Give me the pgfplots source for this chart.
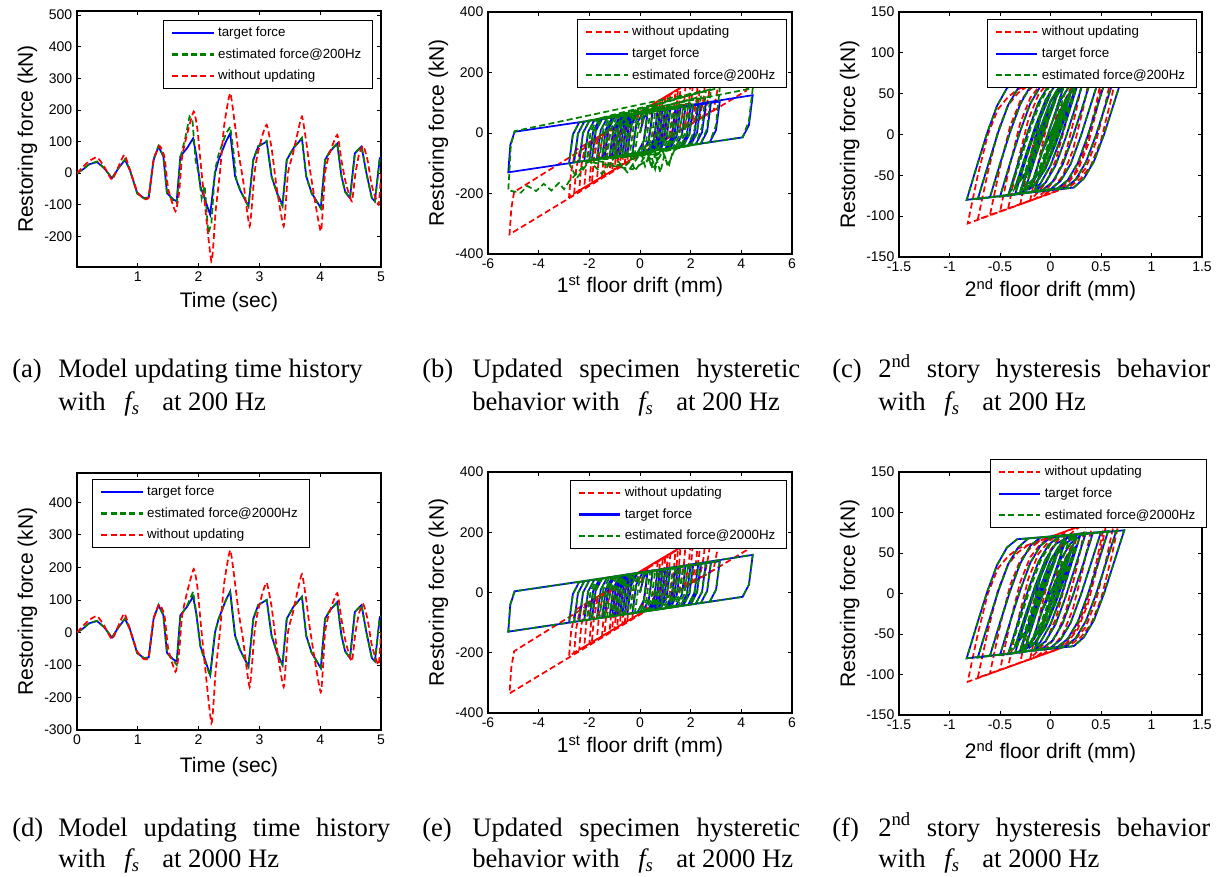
\documentclass[border=0pt]{standalone}
\usepackage{fontspec}
\setmainfont{Liberation Sans}
\newfontfamily\capfont{Liberation Serif}
\usepackage{pgfplots}
\usepackage{pgfplotstable}
\pgfplotsset{compat=1.18}

\definecolor{mblue}{RGB}{0,0,255}
\definecolor{mgreen}{RGB}{0,128,0}
\definecolor{mred}{RGB}{255,0,0}

% ---- time histories (kN vs s)
\pgfplotstableread{
t F
0.00 0
0.10 12
0.20 28
0.33 35
0.45 15
0.575 -16
0.68 15
0.79 42
0.87 10
0.99 -63
1.10 -79
1.18 -77
1.26 42
1.34 84
1.42 53
1.48 -63
1.59 -84
1.64 -89
1.70 53
1.81 79
1.91 110
1.96 60
2.03 -42
2.19 -131
2.27 0
2.33 42
2.45 100
2.52 126
2.60 -10
2.68 -53
2.82 -105
2.90 42
2.98 84
3.12 100
3.20 -10
3.29 -63
3.38 -100
3.45 42
3.56 79
3.70 110
3.77 -10
3.86 -63
4.01 -110
4.08 42
4.16 68
4.28 93
4.35 -10
4.41 -58
4.49 -79
4.57 63
4.68 84
4.76 0
4.85 -79
4.90 -89
4.98 47
5.00 50
}\thT

\pgfplotstableread{
t F
0.00 0
0.10 12
0.20 28
0.33 37
0.45 15
0.575 -16
0.68 15
0.79 44
0.87 10
0.99 -65
1.10 -80
1.18 -77
1.26 45
1.34 86
1.42 55
1.48 -63
1.59 -88
1.64 -95
1.70 50
1.78 110
1.85 179
1.90 165
1.95 40
2.00 0
2.05 -80
2.10 -40
2.16 -190
2.21 -160
2.27 10
2.33 60
2.45 125
2.52 147
2.58 60
2.62 -20
2.70 -60
2.82 -105
2.90 42
2.98 86
3.12 102
3.20 -10
3.29 -65
3.38 -105
3.45 42
3.56 80
3.70 112
3.77 -10
3.86 -65
4.01 -112
4.08 42
4.16 70
4.28 95
4.35 -10
4.41 -60
4.49 -80
4.57 63
4.68 86
4.76 0
4.85 -80
4.90 -90
4.98 47
5.00 50
}\thEa

\pgfplotstableread{
t F
0.00 0
0.10 12
0.20 28
0.33 36
0.45 15
0.575 -16
0.68 15
0.79 43
0.87 10
0.99 -64
1.10 -79
1.18 -77
1.26 43
1.34 84
1.42 53
1.48 -63
1.59 -88
1.64 -100
1.70 50
1.81 82
1.91 125
1.96 62
2.03 -45
2.19 -135
2.27 0
2.33 42
2.45 100
2.52 122
2.60 -10
2.68 -53
2.82 -105
2.90 42
2.98 84
3.12 100
3.20 -10
3.29 -63
3.38 -100
3.45 42
3.56 79
3.70 108
3.77 -10
3.86 -63
4.01 -108
4.08 42
4.16 68
4.28 92
4.35 -10
4.41 -58
4.49 -80
4.57 63
4.68 84
4.76 0
4.85 -80
4.90 -89
4.98 47
5.00 50
}\thEd

\pgfplotstableread{
t F
0.00 0
0.10 20
0.20 38
0.33 50
0.45 20
0.575 -21
0.68 20
0.78 58
0.87 10
0.99 -58
1.10 -82
1.18 -75
1.26 42
1.36 86
1.44 50
1.50 -50
1.62 -121
1.68 -60
1.73 53
1.82 130
1.92 195
1.98 140
2.05 0
2.21 -279
2.28 -120
2.35 0
2.42 150
2.52 253
2.60 150
2.66 60
2.73 -20
2.84 -168
2.92 0
2.97 60
3.05 120
3.12 153
3.20 80
3.28 -40
3.40 -168
3.47 0
3.55 60
3.62 120
3.70 179
3.77 100
3.84 0
4.01 -184
4.08 0
4.15 60
4.28 121
4.35 40
4.42 -30
4.52 -89
4.58 0
4.64 60
4.71 86
4.78 40
4.85 -40
4.96 -100
5.00 0
}\thR

% ---- 1st floor hysteresis (kN vs mm)
\pgfplotstableread{
x F
0 0
0.15 50
0.3 69
0.8 75
0.65 -20
0.4 -60
-0.6 -72.5
-0.45 22.5
-0.2 62.5
1.4 82.5
1.25 -12.5
1.0 -52.5
-1.1 -78.75
-0.95 16
-0.7 56
2.0 90
1.85 -5
1.6 -45
-1.7 -86
-1.55 9
-1.3 49
2.6 97.5
2.45 2.5
2.2 -37.5
-2.4 -95
-2.25 0
-2.0 40
3.15 104
3.0 9
2.75 -30.6
-2.8 -100
-2.65 -5
-2.4 35
4.45 125
4.3 26
4.05 -14.4
-5.2 -130
-5.12 -40
-4.95 4
2.3 93.75
2.15 -1
1.9 -41
-2.0 -90
-1.85 5
-1.6 45
1.8 87.5
1.65 -7.5
1.4 -47.5
-1.4 -82.5
-1.25 12.5
-1.0 52.5
2.8 100
2.65 5
2.4 -35
-2.6 -97.5
-2.45 -2.5
-2.2 37.5
1.1 78.75
0.95 -16
0.7 -56
-0.9 -76
-0.75 19
-0.5 59
0.5 71
0.35 -24
0.1 -64
-0.3 -69
-0.15 26
0.1 66
1.2 80
1.05 -15
0.8 -55
-1.2 -80
-1.05 15
-0.8 55
0.7 74
0.55 -21
0.3 -61
-0.5 -71
-0.35 24
-0.1 64
1.6 85
1.45 -10
1.2 -50
-0.8 -75
-0.65 20
-0.4 60
0.3 69
0.15 -26
-0.1 -66
-1.5 -84
-1.35 11
-1.1 51
0.9 76
0.75 -19
0.5 -59
0.0 -65
-1.9 -88.75
-1.75 6
-1.5 46
1.5 84
1.35 -11
1.1 -51
-2.2 -92.5
-2.05 3
-1.8 42.5
2.1 91
1.95 -4
1.7 -44
-1.0 -77.5
-0.85 17.5
-0.6 57.5
2.4 95
2.25 0
2.0 -40
-0.7 -74
-0.55 21
-0.3 61
1.0 77.5
0.85 -17.5
0.6 -57.5
0.2 -62.5
}\hbT

% extra small cycles around the centre (estimated force)
\pgfplotstableread{
x F
0.2 -62.5
-1.3 -81
-1.15 14
-0.9 54
0.6 72.5
0.45 -22.5
0.2 -62.5
-2.1 -91
-1.95 4
-1.7 44
1.3 81
1.15 -14
0.9 -54
-0.4 -70
-0.25 25
0.0 65
1.7 86
1.55 -9
1.3 -49
-1.6 -85
-1.45 10
-1.2 50
0.4 70
0.25 -25
0.0 -65
-1.0 -77.5
-0.85 17.5
-0.6 57.5
1.9 89
1.75 -6
1.5 -46
-0.2 -67.5
-0.05 27.5
0.2 67.5
0.9 76
}\hbX

\pgfplotstableread{
x F
0 0
0.15 50
0.3 69
0.8 76
0.65 -20
0.4 -60
0.2 -110
0.05 -68
-0.6 -72.5
-0.45 22.5
-0.2 62.5
1.4 88
1.25 -12.5
1.0 -52.5
0.6 -70
0.45 -115
0.3 -65
-0.2 -125
-0.4 -72
-1.1 -78.75
-0.95 16
-0.7 56
2.0 110
1.85 0
1.6 -45
1.3 -60
1.15 -105
0.9 -65
-1.7 -86
-1.55 9
-1.3 49
2.6 140
2.45 20
2.2 -37.5
1.0 -60
0.8 -130
0.6 -70
-2.4 -95
-2.25 0
-2.0 40
3.15 150
3.0 25
2.75 -30.6
0.0 -70
-0.5 -130
-1.0 -80
-1.5 -135
-2.0 -92
-2.5 -150
-2.8 -100
-2.65 -5
-2.4 35
4.45 148
4.3 40
4.05 -14.4
-1.0 -78
-2.0 -90
-2.8 -160
-3.0 -186
-3.2 -165
-3.5 -190
-3.8 -168
-4.1 -192
-4.44 -175
-4.7 -197
-5.2 -190
-5.15 -120
-5.1 -40
-4.95 6
2.3 135
2.15 10
1.9 -41
-2.0 -90
-1.85 5
-1.6 45
1.8 95
1.65 -7.5
1.4 -47.5
1.1 -110
0.9 -60
0.5 -120
0.3 -65
-1.4 -82.5
-1.25 12.5
-1.0 52.5
2.8 145
2.65 15
2.4 -35
-2.6 -97.5
-2.45 -2.5
-2.2 37.5
1.1 82
0.95 -16
0.7 -56
-0.9 -76
-0.75 19
-0.5 59
0.5 71
0.35 -24
0.1 -64
-0.3 -69
-0.15 26
0.1 66
1.2 80
1.05 -15
0.8 -55
0.6 -120
0.4 -62
-1.2 -80
-1.05 15
-0.8 55
0.7 74
0.55 -21
0.3 -61
-0.5 -71
-0.35 24
-0.1 64
1.6 90
1.45 -10
1.2 -50
-0.8 -75
-0.65 20
-0.4 60
0.3 69
0.15 -26
-0.1 -66
-1.5 -84
-1.35 11
-1.1 51
0.9 76
0.75 -19
0.5 -59
0.0 -65
-0.6 -110
-1.9 -88.75
-1.75 6
-1.5 46
1.5 90
1.35 -11
1.1 -51
-0.3 -120
-2.2 -92.5
-2.05 3
-1.8 42.5
2.1 100
1.95 -4
1.7 -44
-1.0 -77.5
-0.85 17.5
-0.6 57.5
2.4 120
2.25 0
2.0 -40
-0.7 -74
-0.55 21
-0.3 61
1.0 77.5
0.85 -17.5
0.6 -57.5
0.2 -62.5
}\hbEa

\pgfplotstableread{
x F
0 0
0.1 55
0.25 82.5
0.8 110
0.72 30
0.55 -42.5
-0.6 -100
-0.52 -20
-0.35 52.5
1.4 140
1.32 60
1.15 -12.5
-1.1 -125
-1.02 -45
-0.85 27.5
2.0 170
1.92 90
1.75 17.5
-1.7 -155
-1.62 -75
-1.45 -2.5
2.6 200
2.52 120
2.35 47.5
-2.4 -190
-2.32 -110
-2.15 -37.5
3.15 227.5
3.07 147.5
2.9 75
-2.8 -210
-2.72 -130
-2.55 -57.5
4.45 292.5
4.37 212.5
4.2 140
-5.15 -335
-5.08 -250
-4.97 -195
2.3 185
2.22 105
2.05 32.5
-2.0 -170
-1.92 -90
-1.75 -17.5
1.8 160
1.72 80
1.55 7.5
-1.4 -140
-1.32 -60
-1.15 12.5
2.8 210
2.72 130
2.55 57.5
-2.6 -200
-2.52 -120
-2.35 -47.5
1.1 125
1.02 45
0.85 -27.5
-0.9 -115
-0.82 -35
-0.65 37.5
0.5 95
0.42 15
0.25 -57.5
-0.3 -85
-0.22 -5
-0.05 67.5
1.2 130
1.12 50
0.95 -22.5
-1.2 -130
-1.12 -50
-0.95 22.5
0.7 105
0.62 25
0.45 -47.5
-0.5 -95
-0.42 -15
-0.25 57.5
1.6 150
1.52 70
1.35 -2.5
-0.8 -110
-0.72 -30
-0.55 42.5
0.3 85
0.22 5
0.05 -67.5
-1.5 -145
-1.42 -65
-1.25 7.5
0.9 115
0.82 35
0.65 -37.5
0 -70
-1.9 -165
-1.82 -85
-1.65 -12.5
1.5 145
1.42 65
1.25 -7.5
-2.2 -180
-2.12 -100
-1.95 -27.5
2.1 175
2.02 95
1.85 22.5
-1.0 -120
-0.92 -40
-0.75 32.5
2.4 190
2.32 110
2.15 37.5
-0.7 -105
-0.62 -25
-0.45 47.5
1.0 120
0.92 40
0.75 -32.5
0.2 -60
}\hbR

% ---- 2nd floor hysteresis (kN vs mm)
\pgfplotstableread{
x F
0 0
0.1 30
0.2 52
0.25 58
0.15 23
0.05 -12
-0.05 -42
-0.15 -61
-0.2 -66
-0.1 -28
0.0 10
0.1 42
0.2 62
0.3 72
0.42 75
0.32 35
0.22 -3
0.12 -37
0.02 -58
-0.08 -68
-0.42 -75
-0.32 -35
-0.22 5
-0.12 39
-0.02 60
0.08 70
0.57 77
0.47 37
0.37 -1
0.27 -35
0.17 -56
0.07 -66
-0.6 -77
-0.5 -36
-0.4 3
-0.3 37
-0.2 59
-0.1 69
0.73 78
0.63 39
0.53 0
0.43 -33
0.33 -54
0.23 -65
-0.83 -80
-0.73 -39
-0.63 1
-0.53 35
-0.43 57
-0.33 67
0.65 77
0.55 38
0.45 -1
0.35 -34
0.25 -55
0.15 -65
-0.72 -79
-0.62 -38
-0.52 2
-0.42 36
-0.32 57
-0.22 68
0.5 76
0.4 37
0.3 -2
0.2 -36
0.1 -57
0.0 -67
-0.5 -76
-0.4 -35
-0.3 4
-0.2 38
-0.1 59
0.0 69
0.35 75
0.25 35
0.15 -4
0.05 -38
-0.05 -59
-0.15 -69
-0.3 -73
-0.2 -33
-0.1 6
0.0 40
0.1 61
0.15 66
0.05 28
-0.05 -9
-0.1 -26
0.0 1
0.1 28
0.2 52
0.1 18
0.0 -15
-0.1 -44
-0.2 -62
-0.25 -67
-0.15 -28
-0.05 9
0.05 42
-0.05 10
-0.15 -21
-0.25 -48
-0.35 -65
-0.25 -27
-0.15 10
-0.05 42
0.05 61
0.15 68
0.3 74
0.2 34
0.1 -5
0.0 -38
-0.1 -60
-0.15 -66
-0.05 -27
0.05 10
0.15 43
0.2 53
0.1 19
0.0 -15
-0.1 -44
-0.2 -62
-0.3 -70
-0.2 -31
-0.1 8
0.0 41
0.1 61
0.0 26
-0.1 -10
-0.2 -42
-0.25 -52
-0.15 -18
-0.05 17
0.05 46
0.15 62
0.25 70
0.15 31
0.05 -7
-0.05 -40
-0.15 -60
-0.25 -69
-0.35 -73
-0.25 -33
-0.15 6
-0.05 40
0.0 50
-0.1 20
-0.15 -5
}\hcT

% extra small cycles around the centre (estimated force)
\pgfplotstableread{
x F
-0.15 -5
-0.25 -45
-0.35 -63
-0.4 -70
-0.3 -32
-0.2 7
-0.1 40
0.0 61
0.1 70
0.2 73
0.1 34
0.0 -4
-0.1 -38
-0.2 -60
-0.3 -70
-0.2 -31
-0.1 8
0.0 41
0.1 62
0.25 72
0.15 33
0.05 -5
-0.05 -38
-0.1 -50
0.0 -12
0.1 25
0.15 40
0.05 5
-0.05 -28
-0.15 -52
-0.25 -64
-0.15 -25
-0.05 12
0.05 44
0.1 55
}\hcX

\pgfplotstableread{
x F
0 0
0.1 30
0.2 57
0.25 65
0.15 13
0.05 -32
-0.05 -60
-0.15 -74
-0.2 -80
-0.1 -22
0.0 28
0.1 59
0.2 74
0.3 83.5
0.42 89
0.32 30
0.22 -20
0.12 -51
0.02 -66
-0.08 -75.6
-0.42 -91
-0.32 -32
-0.22 18
-0.12 49
-0.02 64
0.08 73.6
0.57 96
0.47 37
0.37 -13
0.27 -44
0.17 -60
0.07 -69
-0.6 -99
-0.5 -40
-0.4 10
-0.3 41
-0.2 56
-0.1 65.5
0.7 101.5
0.6 43
0.5 -7
0.4 -38
0.3 -54
0.2 -63
-0.82 -109
-0.72 -50
-0.62 0
-0.52 31
-0.42 46
-0.32 55.6
0.65 99
0.55 41
0.45 -9
0.35 -41
0.25 -56
0.15 -65
-0.72 -104
-0.62 -46
-0.52 4
-0.42 36
-0.32 51
-0.22 60
0.55 95
0.45 36
0.35 -14
0.25 -45
0.15 -60
0.05 -70
-0.5 -94.5
-0.4 -36
-0.3 14
-0.2 45
-0.1 61
0.0 70
0.35 86
0.25 27
0.15 -23
0.05 -54
-0.05 -69
-0.15 -79
-0.3 -85.5
-0.2 -27
-0.1 23
0.0 54
0.1 70
0.15 77
0.05 18
-0.05 -32
-0.1 -47
}\hcR

\pgfplotsset{
  mat/.style={
    scale only axis,
    anchor=north west,
    tick align=inside,
    tick pos=both,
    major tick length=3pt,
    axis line style={line width=0.9pt},
    every tick/.style={black,line width=0.5pt},
    tick label style={font=\fontsize{10.5}{12}\selectfont},
    /pgf/number format/assume math mode=true,
    every axis x label/.style={at={(axis description cs:0.5,-0.137)},anchor=center,
      font=\fontsize{15.75}{18}\selectfont},
    every axis y label/.style={at={(axis description cs:-0.163,0.5)},anchor=center,rotate=90,
      font=\fontsize{15.75}{18}\selectfont},
    ylabel={Restoring force (kN)},
    legend cell align=left,
    legend style={font=\fontsize{10}{12}\selectfont, draw=black, line width=0.6pt,
      fill=white, inner xsep=6pt, inner ysep=3.5pt, row sep=4.5pt,
      nodes={inner xsep=2.5pt, inner ysep=1.5pt}},
    legend image code/.code={\draw[##1, line width=1.6pt] (0pt,0pt) -- (31pt,0pt);},
  },
  tgt/.style={mblue, line width=1.3pt},
  est/.style={mgreen, line width=1.3pt, dash pattern=on 4.5pt off 2.5pt},
  wou/.style={mred, line width=1.3pt, dash pattern=on 4.5pt off 2.5pt},
}

\begin{document}
\begin{tikzpicture}
\useasboundingbox (0,0) rectangle (915.75pt,-657.75pt);

% (a)
\begin{axis}[mat, at={(57.75pt,-8.25pt)}, width=228pt, height=192pt,
  xmin=0, xmax=5, ymin=-297, ymax=513,
  xtick={1,2,3,4,5}, ytick={-200,-100,...,500},
  xlabel={Time (sec)},
  legend style={at={(axis description cs:0.974,0.965)}, anchor=north east}]
\addplot[tgt] table {\thT}; \addlegendentry{target force}
\addplot[est] table {\thEa}; \addlegendentry{estimated force@200Hz}
\addplot[wou, smooth, tension=0.3] table {\thR}; \addlegendentry{without updating}
\end{axis}

% (b)
\begin{axis}[mat, at={(366pt,-9pt)}, width=228pt, height=181.5pt,
  xmin=-6, xmax=6, ymin=-400, ymax=400,
  xtick={-6,-4,...,6}, ytick={-400,-200,...,400},
  xlabel={1\textsuperscript{st} floor drift (mm)},
  xlabel style={at={(axis description cs:0.5,-0.136)}},
  legend style={at={(axis description cs:0.984,0.971)}, anchor=north east}]
\addplot[wou] table {\hbR}; \addlegendentry{without updating}
\addplot[tgt] table {\hbT}; \addlegendentry{target force}
\addplot[est] table {\hbEa}; \addlegendentry{estimated force@200Hz}
\addplot[est, forget plot] table {\hbX};
\end{axis}

% (c)
\begin{axis}[mat, at={(674.25pt,-9pt)}, width=227.25pt, height=183.75pt,
  xmin=-1.5, xmax=1.5, ymin=-150, ymax=150,
  xtick={-1.5,-1,...,1.5}, ytick={-150,-100,...,150},
  xlabel={2\textsuperscript{nd} floor drift (mm)},
  xlabel style={at={(axis description cs:0.5,-0.135)}},
  legend style={at={(axis description cs:0.983,0.971)}, anchor=north east}]
\addplot[wou] table {\hcR}; \addlegendentry{without updating}
\addplot[tgt] table {\hcT}; \addlegendentry{target force}
\addplot[est] table {\hcT}; \addlegendentry{estimated force@200Hz}
\addplot[est, forget plot] table {\hcX};
\end{axis}

% (d)
\begin{axis}[mat, at={(57.75pt,-354.75pt)}, width=228pt, height=192.75pt,
  xmin=0, xmax=5, ymin=-300, ymax=490,
  xtick={0,1,...,5}, ytick={-300,-200,...,400},
  xlabel={Time (sec)},
  xlabel style={at={(axis description cs:0.5,-0.144)}},
  legend style={at={(axis description cs:0.049,0.977)}, anchor=north west}]
\addplot[tgt] table {\thT}; \addlegendentry{target force}
\addplot[est] table {\thEd}; \addlegendentry{estimated force@2000Hz}
\addplot[wou, smooth, tension=0.3] table {\thR}; \addlegendentry{without updating}
\end{axis}

% (e)
\begin{axis}[mat, at={(366pt,-354pt)}, width=228pt, height=180.75pt,
  xmin=-6, xmax=6, ymin=-400, ymax=400,
  xtick={-6,-4,...,6}, ytick={-400,-200,...,400},
  xlabel={1\textsuperscript{st} floor drift (mm)},
  legend style={at={(axis description cs:0.984,0.967)}, anchor=north east}]
\addplot[wou] table {\hbR}; \addlegendentry{without updating}
\addplot[tgt] table {\hbT}; \addlegendentry{target force}
\addplot[est] table {\hbT}; \addlegendentry{estimated force@2000Hz}
\addplot[est, forget plot] table {\hbX};
\end{axis}

% (f)
\begin{axis}[mat, at={(674.25pt,-354pt)}, width=227.25pt, height=182.25pt,
  xmin=-1.5, xmax=1.5, ymin=-150, ymax=150,
  xtick={-1.5,-1,...,1.5}, ytick={-150,-100,...,150},
  xlabel={2\textsuperscript{nd} floor drift (mm)},
  xlabel style={at={(axis description cs:0.5,-0.152)}},
  legend style={at={(axis description cs:1.017,1.053)}, anchor=north east}]
\addplot[wou] table {\hcR}; \addlegendentry{without updating}
\addplot[tgt] table {\hcT}; \addlegendentry{target force}
\addplot[est] table {\hcT}; \addlegendentry{estimated force@2000Hz}
\addplot[est, forget plot] table {\hcX};
\end{axis}

% captions
\begin{scope}[every node/.style={anchor=base west, inner sep=0pt,
    font=\capfont\fontsize{20}{24}\selectfont}]
\node at (9pt,-283.5pt) {(a)};
\node at (43.5pt,-283.5pt) {Model updating time history};
\node at (43.5pt,-307.5pt) {with\hspace{0.7em}{\itshape f}\textsubscript{\itshape s}\hspace{0.6em} at 200 Hz};
\node at (316.5pt,-283.5pt) {(b)};
\node at (354pt,-283.5pt) {\makebox[246pt][s]{Updated specimen hysteretic}};
\node at (354pt,-307.5pt) {behavior with\hspace{0.7em}{\itshape f}\textsubscript{\itshape s}\hspace{0.6em} at 200 Hz};
\node at (624pt,-283.5pt) {(c)};
\node at (658.5pt,-283.5pt) {\makebox[249pt][s]{2\textsuperscript{nd} story hysteresis behavior}};
\node at (658.5pt,-307.5pt) {with\hspace{0.7em}{\itshape f}\textsubscript{\itshape s}\hspace{0.6em} at 200 Hz};
\node at (9pt,-627pt) {(d)};
\node at (43.5pt,-627pt) {\makebox[249pt][s]{Model updating time history}};
\node at (43.5pt,-650.25pt) {with\hspace{0.7em}{\itshape f}\textsubscript{\itshape s}\hspace{0.6em} at 2000 Hz};
\node at (316.5pt,-627pt) {(e)};
\node at (354pt,-627pt) {\makebox[246pt][s]{Updated specimen hysteretic}};
\node at (354pt,-650.25pt) {behavior with\hspace{0.7em}{\itshape f}\textsubscript{\itshape s}\hspace{0.6em} at 2000 Hz};
\node at (624pt,-627pt) {(f)};
\node at (658.5pt,-627pt) {\makebox[249pt][s]{2\textsuperscript{nd} story hysteresis behavior}};
\node at (658.5pt,-650.25pt) {with\hspace{0.7em}{\itshape f}\textsubscript{\itshape s}\hspace{0.6em} at 2000 Hz};
\end{scope}
\end{tikzpicture}
\end{document}
